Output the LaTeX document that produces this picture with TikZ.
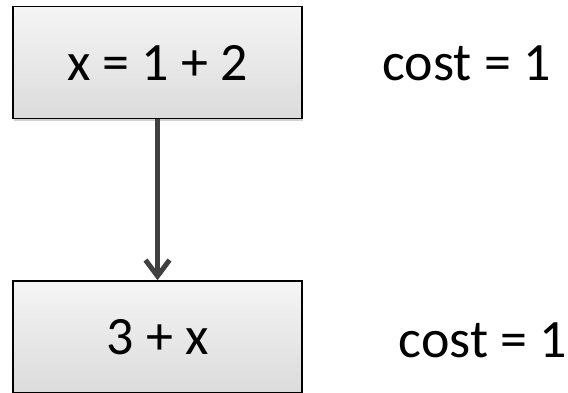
\documentclass[tikz,border=0pt]{standalone}
\usepackage{fontspec}
\setmainfont{Carlito}
\usepackage{tikz}
\usetikzlibrary{positioning, arrows.meta, shadows}

\tikzset{
  stmtbox/.style={draw=black, line width=1.4pt, minimum width=289pt, minimum height=112pt,
    top color=gray!8, bottom color=gray!28, inner sep=0pt,
    drop shadow={opacity=0.35, shadow xshift=1pt, shadow yshift=-3pt},
    font=\fontsize{54}{60}\selectfont},
  costlabel/.style={anchor=base, inner sep=0pt, font=\fontsize{54}{60}\selectfont},
  flowarrow/.style={draw=black!75, line width=5pt,
    -{Straight Barb[length=16pt, width=24pt, line width=5pt]}}
}

\begin{document}
\begin{tikzpicture}[x=1pt, y=1pt]

    % --- Canvas ---
    \useasboundingbox (0,0) rectangle (568,393);

    % --- Statements ---
    \node[stmtbox] (assign) at (157.5,330.5) {x = 1 + 2};
    \node[stmtbox, below=161pt of assign] (use) {3 + x};

    % --- Costs ---
    \node[costlabel] (assigncost) at (466.5,312) {cost = 1};
    \node[costlabel] (usecost) at (483,35) {cost = 1};

    % --- Data flow ---
    \draw[flowarrow] (assign.south) -- (use.north);

\end{tikzpicture}
\end{document}
